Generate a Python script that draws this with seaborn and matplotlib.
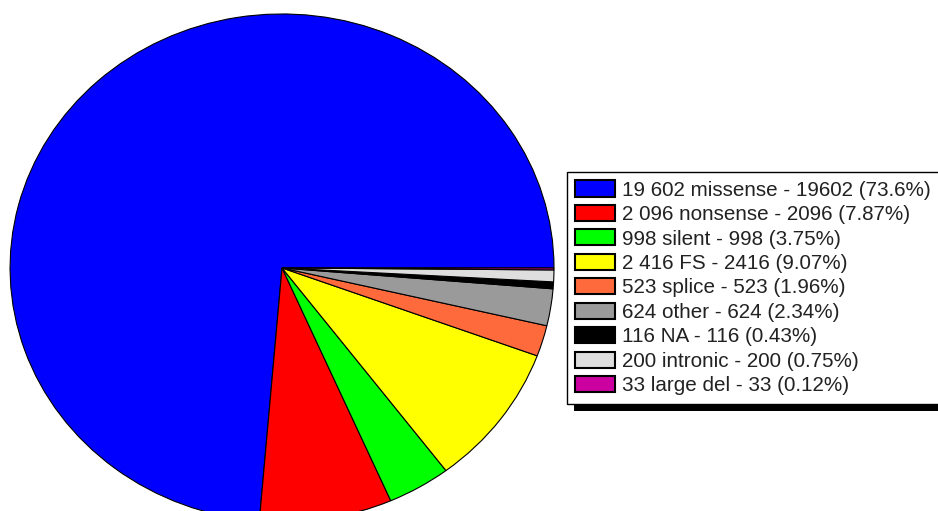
import matplotlib
matplotlib.use('Agg')
import matplotlib.pyplot as plt
from matplotlib.patches import Rectangle
from matplotlib.transforms import IdentityTransform
import seaborn as sns

# mutation categories and counts
categories = ['missense', 'nonsense', 'silent', 'FS', 'splice', 'other', 'NA', 'intronic', 'large del']
counts = [19602, 2096, 998, 2416, 523, 624, 116, 200, 33]
count_text = ['19 602', '2 096', '998', '2 416', '523', '624', '116', '200', '33']
percents = ['73.6%', '7.87%', '3.75%', '9.07%', '1.96%', '2.34%', '0.43%', '0.75%', '0.12%']
colors = ['#0000FF', '#FF0000', '#00FF00', '#FFFF00', '#FF6A3D', '#9A9A9A', '#000000', '#DEDEDE', '#CC00A0']

labels = [f'{t} {c} - {n} ({p})' for t, c, n, p in zip(count_text, categories, counts, percents)]

sns.set_theme(style='white')
plt.rcParams['font.family'] = ['Liberation Sans', 'DejaVu Sans']

fig = plt.figure(figsize=(9.38, 5.11), dpi=100)
ax = fig.add_axes([0, 0, 1, 1])

wedges, _ = ax.pie(counts, colors=colors, startangle=0, counterclock=True,
                   wedgeprops=dict(edgecolor='black', linewidth=0.8))
# stretched pie, clipped at the bottom like the original
ax.set_aspect('auto')
ax.set_xlim(-1.037, 2.412)
ax.set_ylim(-0.957, 1.055)
ax.axis('off')

leg = fig.legend(wedges, labels, loc='upper left',
                 bbox_to_anchor=(567 / 938, 1 - 172 / 511), bbox_transform=fig.transFigure,
                 borderaxespad=0, frameon=True, fancybox=False, edgecolor='black',
                 framealpha=1, fontsize=14.9, handlelength=1.94, handleheight=0.83,
                 labelspacing=0.25, handletextpad=0.34, borderpad=0.4)
leg.get_frame().set_linewidth(1.0)
for t in leg.get_texts():
    t.set_color('#222222')
for h in leg.legend_handles:
    h.set_linewidth(1.5)

# black drop shadow under the legend box
fig.canvas.draw()
bb = leg.get_window_extent()
shadow = Rectangle((bb.x0 + 7, bb.y0 - 7), bb.width, bb.height, transform=IdentityTransform(),
                   facecolor='black', edgecolor='none', zorder=leg.get_zorder() - 0.1)
fig.add_artist(shadow)

fig.savefig('out.png', dpi=100)
